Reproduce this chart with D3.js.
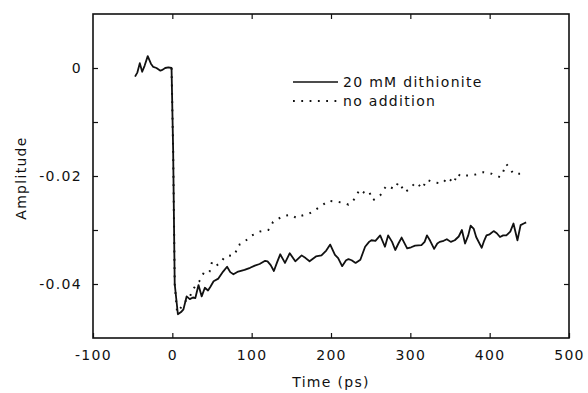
<!DOCTYPE html>
<html lang="en">
<head>
<meta charset="utf-8"/>
<title>Amplitude vs time</title>
<script src="https://d3js.org/d3.v7.min.js"></script>
<style>
  body { margin: 0; background: #fff; overflow: hidden; }
  svg { display: block; }
  svg text { font-family: "DejaVu Sans", sans-serif; font-size: 14px; letter-spacing: 1.3px; fill: #111; }
</style>
</head>
<body>
<script>
// data
var solidTime = [-47,-44,-41,-38,-35,-31,-27,-24,-20,-15,-12,-9,-5,-1,1,3,7,11,14,18,22,26,29,33,37,41,45,48,52,58,64,69,73,77,83,91,98,104,110,117,120,124,128,132,136,142,148,155,163,168,173,181,188,194,199,205,209,214,219,222,226,231,237,243,248,251,256,262,268,272,277,281,285,289,296,301,306,314,318,321,325,330,334,337,342,346,351,356,361,365,369,373,376,380,383,390,393,396,400,405,409,413,417,421,426,430,435,439,443,446];
var solidAmp = [-0.0016,-0.0008,0.0009,-0.0007,0.0004,0.0022,0.0008,0.0002,0.0,-0.0005,-0.0003,0.0,0.0001,0.0,-0.015,-0.040,-0.0456,-0.0452,-0.0447,-0.0423,-0.0428,-0.0425,-0.0426,-0.0402,-0.0423,-0.0407,-0.0412,-0.0405,-0.0395,-0.039,-0.0377,-0.0368,-0.0378,-0.0382,-0.0377,-0.0374,-0.037,-0.0366,-0.0363,-0.0357,-0.0358,-0.0365,-0.0376,-0.036,-0.0345,-0.0361,-0.0343,-0.0358,-0.0347,-0.0352,-0.0358,-0.0349,-0.0347,-0.0338,-0.0327,-0.0346,-0.0352,-0.0367,-0.0356,-0.0354,-0.0356,-0.0361,-0.0355,-0.0331,-0.0322,-0.0319,-0.032,-0.031,-0.0331,-0.031,-0.0322,-0.0337,-0.0325,-0.0314,-0.0334,-0.0332,-0.0329,-0.0328,-0.0322,-0.031,-0.032,-0.0335,-0.0325,-0.0322,-0.032,-0.0317,-0.0322,-0.0319,-0.0312,-0.03,-0.0325,-0.031,-0.0292,-0.0298,-0.0313,-0.0333,-0.032,-0.031,-0.0308,-0.0302,-0.0306,-0.0313,-0.031,-0.031,-0.0303,-0.0288,-0.0319,-0.0291,-0.0288,-0.0286];

var dottedTime = [-1,1,3,6,10,14,18,21,26,30,34,39,43,47,50,55,60,65,70,75,79,83,88,93,100,105,110,116,121,127,133,138,144,149,157,162,167,172,176,181,185,191,197,203,209,216,222,226,230,236,243,248,253,258,262,266,270,275,280,285,289,293,298,302,307,311,315,321,326,330,336,341,347,351,355,359,365,369,375,380,386,392,398,403,408,413,417,421,425,430,436,442];
var dottedAmp = [0,-0.015,-0.040,-0.0452,-0.0445,-0.0438,-0.0429,-0.0427,-0.041,-0.0402,-0.0395,-0.0381,-0.0383,-0.0377,-0.0359,-0.0366,-0.0362,-0.0352,-0.0347,-0.0348,-0.0345,-0.0328,-0.0325,-0.0319,-0.031,-0.0307,-0.0303,-0.0301,-0.03,-0.0285,-0.028,-0.0275,-0.0273,-0.0272,-0.0278,-0.0274,-0.0272,-0.027,-0.0267,-0.0262,-0.0258,-0.0252,-0.0246,-0.0247,-0.0248,-0.025,-0.0253,-0.0248,-0.0242,-0.0225,-0.0232,-0.0229,-0.0245,-0.024,-0.0236,-0.0226,-0.0218,-0.0221,-0.0224,-0.0212,-0.022,-0.023,-0.0225,-0.0219,-0.0212,-0.0217,-0.0223,-0.0207,-0.021,-0.0212,-0.0213,-0.0213,-0.0203,-0.0208,-0.0213,-0.0196,-0.0201,-0.0199,-0.0199,-0.0198,-0.0196,-0.0193,-0.0194,-0.0196,-0.0199,-0.0202,-0.0192,-0.0178,-0.0185,-0.0196,-0.0196,-0.0196];

var xTicks = [-100, 0, 100, 200, 300, 400, 500];
var yTicks = [0.01, 0, -0.01, -0.02, -0.03, -0.04, -0.05];
var yLabelled = [0, -0.02, -0.04];
var seriesNames = ["20 mM dithionite", "no addition"];

var w = 588, h = 393;
var pLeft = 93, pRight = 569, pTop = 14, pBottom = 338;

var x = d3.scaleLinear().domain([-100, 500]).range([pLeft, pRight]);
var y = d3.scaleLinear().domain([-0.05, 0.01]).range([pBottom, pTop]);

var svg = d3.select("body").append("svg")
    .attr("width", w)
    .attr("height", h);

svg.append("rect").attr("width", w).attr("height", h).attr("fill", "#fff");

function fmt(v) {
    if (Math.abs(v) < 1e-9) return "0";
    return String(+v.toFixed(2));
}

function tidy(g) {
    g.select(".domain").remove();
    g.selectAll("text").attr("font-size", null).attr("font-family", null).attr("fill", null);
    g.selectAll("line").attr("stroke", "#111").attr("stroke-width", 1.2);
}

// axes, ticks point inward
svg.append("g").attr("transform", "translate(0," + pBottom + ")")
    .call(d3.axisBottom(x).tickValues(xTicks).tickSizeInner(-5).tickSizeOuter(0).tickPadding(12)
        .tickFormat(function(d) { return String(d); }))
    .call(tidy);

svg.append("g").attr("transform", "translate(0," + pTop + ")")
    .call(d3.axisTop(x).tickValues(xTicks.slice(1, -1)).tickSizeInner(-5).tickSizeOuter(0).tickFormat(""))
    .call(tidy);

svg.append("g").attr("transform", "translate(" + pLeft + ",0)")
    .call(d3.axisLeft(y).tickValues(yTicks.slice(1, -1)).tickSizeInner(-5).tickSizeOuter(0).tickPadding(11)
        .tickFormat(function(d) {
            return yLabelled.some(function(v) { return Math.abs(v - d) < 1e-9; }) ? fmt(d) : "";
        }))
    .call(tidy);

svg.append("g").attr("transform", "translate(" + pRight + ",0)")
    .call(d3.axisRight(y).tickValues(yTicks.slice(1, -1)).tickSizeInner(-5).tickSizeOuter(0).tickFormat(""))
    .call(tidy);

// frame
svg.append("rect")
    .attr("x", pLeft).attr("y", pTop)
    .attr("width", pRight - pLeft).attr("height", pBottom - pTop)
    .attr("fill", "none").attr("stroke", "#111").attr("stroke-width", 1.6);

// axis titles
svg.append("text")
    .attr("x", (pLeft + pRight) / 2).attr("y", 387)
    .attr("text-anchor", "middle")
    .text("Time (ps)");

svg.append("text")
    .attr("transform", "translate(26,178) rotate(-90)")
    .attr("text-anchor", "middle")
    .text("Amplitude");

// series
var line = d3.line()
    .x(function(d) { return x(d[0]); })
    .y(function(d) { return y(d[1]); });

var dotted = d3.zip(dottedTime, dottedAmp);
var solid = d3.zip(solidTime, solidAmp);

svg.append("path")
    .datum(dotted)
    .attr("d", line)
    .attr("fill", "none")
    .attr("stroke", "#111")
    .attr("stroke-width", 2)
    .attr("stroke-dasharray", "1.8,6.5");

svg.append("path")
    .datum(solid)
    .attr("d", line)
    .attr("fill", "none")
    .attr("stroke", "#111")
    .attr("stroke-width", 1.8)
    .attr("stroke-linejoin", "round");

// legend
var legend = svg.append("g").attr("transform", "translate(293,82)");
var styles = [null, "1.8,6.5"];
seriesNames.forEach(function(name, i) {
    var row = legend.append("g").attr("transform", "translate(0," + (i * 19) + ")");
    row.append("line")
        .attr("x1", 0).attr("x2", 45).attr("y1", 0).attr("y2", 0)
        .attr("stroke", "#111")
        .attr("stroke-width", styles[i] ? 2 : 1.6)
        .attr("stroke-dasharray", styles[i]);
    row.append("text")
        .attr("x", 50).attr("y", 5)
        .text(name);
});
</script>
</body>
</html>
